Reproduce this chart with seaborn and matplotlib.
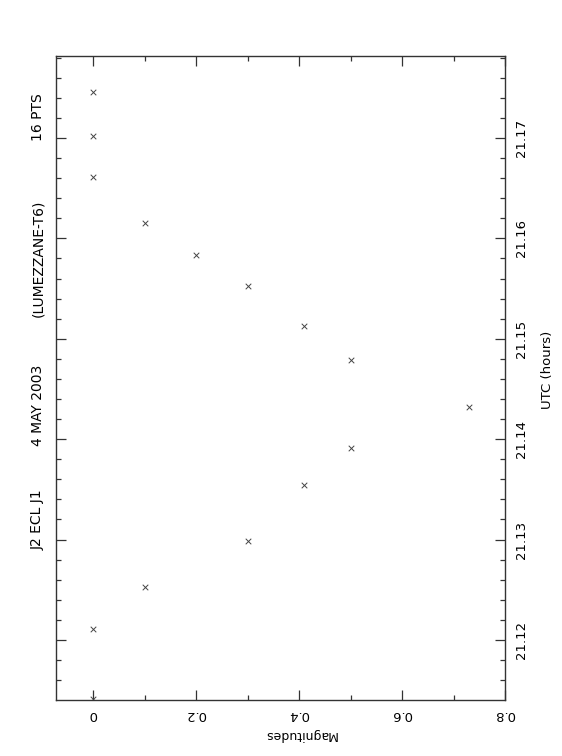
import numpy as np
import pandas as pd
import seaborn as sns
from matplotlib import pyplot as plt
from matplotlib.ticker import MultipleLocator

# light curve points
utc = [21.17458, 21.17020, 21.16612, 21.16153, 21.15835, 21.15526, 21.15127,
       21.14789, 21.14321, 21.13912, 21.13544, 21.12986, 21.12528, 21.12110,
       21.11412]
mags = [0.0, 0.0, 0.0, 0.1, 0.2, 0.3, 0.41, 0.5, 0.73, 0.5, 0.41, 0.3, 0.1,
        0.0, 0.0]
title_parts = ['J2 ECL J1', '4 MAY 2003', '(LUMEZZANE-T6)', '16 PTS']
mag_ticks = [0, 0.2, 0.4, 0.6, 0.8]
mag_ticklabels = ['0', '0.2', '0.4', '0.6', '0.8']
utc_ticks = [21.12, 21.13, 21.14, 21.15, 21.16, 21.17]
utc_ticklabels = ['21.12', '21.13', '21.14', '21.15', '21.16', '21.17']

df = pd.DataFrame({'utc': utc, 'mag': mags})

sns.set_style('ticks')
plt.rcParams['font.family'] = ['DejaVu Sans']
plt.rcParams['text.color'] = 'black'
plt.rcParams['xtick.color'] = 'black'
plt.rcParams['ytick.color'] = 'black'

W, H = 562, 756
fig = plt.figure(figsize=(W / 100, H / 100), dpi=100)
ax = fig.add_axes([56 / W, 56 / H, 449 / W, 644 / H])

sns.scatterplot(data=df, x='mag', y='utc', marker='x', color='#444444',
                s=16, linewidth=0.7, ax=ax, legend=False)

ax.set_xlim(-0.072, 0.8)
ax.set_ylim(21.11402, 21.17817)

ax.set_xticks(mag_ticks)
ax.set_xticklabels(mag_ticklabels)
ax.xaxis.set_minor_locator(MultipleLocator(0.1))
ax.set_yticks(utc_ticks)
ax.set_yticklabels(utc_ticklabels)
ax.yaxis.set_minor_locator(MultipleLocator(0.002))

ax.tick_params(which='both', direction='in', top=True, bottom=True,
               left=True, right=True, labelleft=False, labelright=True,
               color='#333333', labelcolor='black', width=0.9)
ax.tick_params(which='major', length=7)
ax.tick_params(which='minor', length=3.5)
ax.tick_params(axis='x', labelrotation=180, labelsize=9.5, pad=6)
ax.tick_params(axis='y', labelrotation=90, labelsize=9.5, pad=7)
for lab in ax.get_yticklabels():
    lab.set_va('center')

for sp in ax.spines.values():
    sp.set_color('#333333')
    sp.set_linewidth(1.0)

ax.set_xlabel('')
ax.set_ylabel('')
fig.text(300 / W, 1 - 735 / H, 'Magnitudes', rotation=180, ha='center',
         va='center', fontsize=9)
fig.text(548 / W, 1 - 370 / H, 'UTC (hours)', rotation=90, ha='center',
         va='center', fontsize=9.5)

title_y = [520, 405, 258, 117]
for txt, ty in zip(title_parts, title_y):
    fig.text(38 / W, 1 - ty / H, txt, rotation=90, ha='center', va='center',
             fontsize=10)

fig.savefig('out.png', dpi=100, facecolor='white')
